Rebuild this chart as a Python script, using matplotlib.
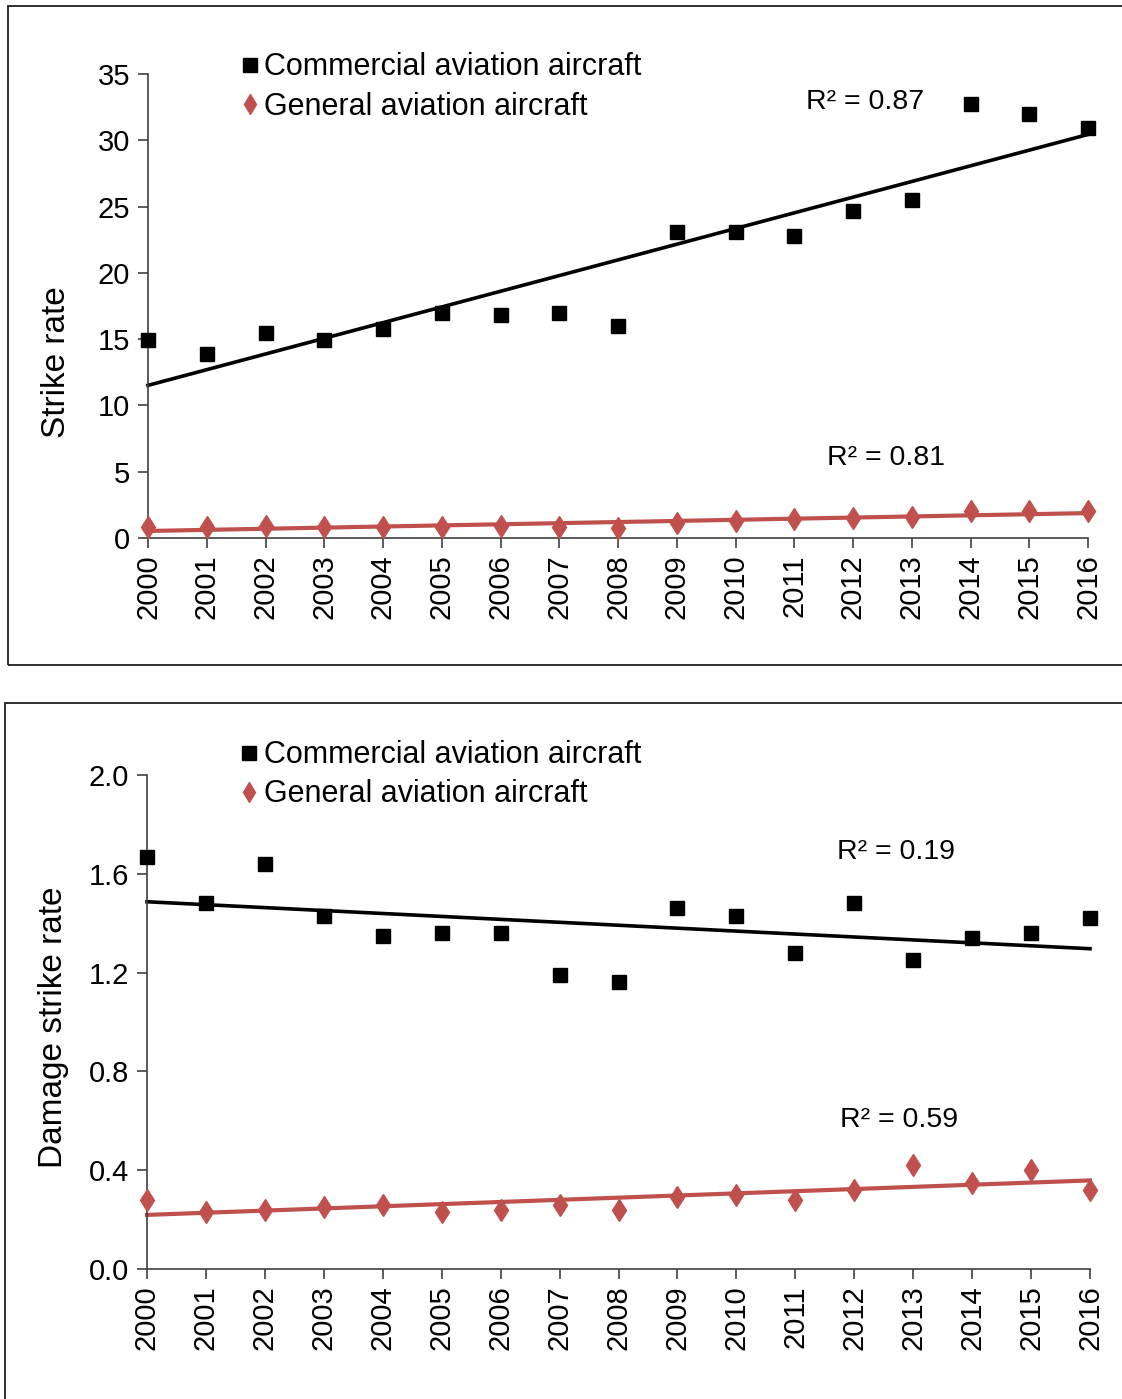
"""
Strike rate and damaging strike rate, commercial vs general aviation, 2000-2016.
"""

import matplotlib.pyplot as plt
import matplotlib.patches as mpatches
import numpy as np

plt.rcParams.update({
    "font.family": ["Liberation Sans", "DejaVu Sans"],
    "font.size": 20,
    "figure.facecolor": "white",
    "axes.facecolor": "white",
})

years = np.arange(2000, 2017)

# strike rate (top panel)
strike_commercial = [14.9, 13.9, 15.5, 14.9, 15.8, 17.0, 16.8, 17.0, 16.0,
                     23.1, 23.1, 22.8, 24.7, 25.5, 32.7, 32.0, 30.9]
strike_general = [0.85, 0.80, 0.90, 0.80, 0.80, 0.85, 0.93, 0.80, 0.73,
                  1.13, 1.26, 1.40, 1.50, 1.60, 2.06, 2.06, 2.00]

# damaging strike rate (bottom panel)
damage_commercial = [1.67, 1.48, 1.64, 1.43, 1.35, 1.36, 1.36, 1.19, 1.16,
                     1.46, 1.43, 1.28, 1.48, 1.25, 1.34, 1.36, 1.42]
damage_general = [0.28, 0.23, 0.24, 0.25, 0.26, 0.23, 0.24, 0.26, 0.24,
                  0.29, 0.30, 0.28, 0.32, 0.42, 0.35, 0.40, 0.32]

r2_labels_top = ["R² = 0.87", "R² = 0.81"]
r2_labels_bottom = ["R² = 0.19", "R² = 0.59"]

BLACK = "#000000"
RED = "#C0504D"

W, H = 1122, 1399
fig = plt.figure(figsize=(W / 100, H / 100), dpi=100)


def px_axes(left, top, right, bottom):
    return fig.add_axes([left / W, 1 - bottom / H, (right - left) / W, (bottom - top) / H])


def draw_panel(ax, comm, gen, ylim, yticks, yfmt, ylabel, r2_text, r2_pos, leg_anchor,
               lpad, label_y):
    ax.plot(years, comm, "s", color=BLACK, markersize=10.5, linestyle="none",
            label="Commercial aviation aircraft", zorder=3, clip_on=False)
    ax.plot(years, gen, "d", color=RED, markersize=11.5, linestyle="none",
            label="General aviation aircraft", zorder=3, clip_on=False)

    for vals, col, lw in [(comm, BLACK, 2.6), (gen, RED, 3.0)]:
        k, b = np.polyfit(years, vals, 1)
        ax.plot(years[[0, -1]], k * years[[0, -1]] + b, color=col, lw=lw, zorder=2,
                clip_on=False)

    ax.set_xlim(2000, 2016)
    ax.set_ylim(*ylim)
    ax.set_xticks(years)
    ax.set_xticklabels([str(y) for y in years], rotation=90)
    ax.set_yticks(yticks)
    ax.set_yticklabels([yfmt.format(v) for v in yticks])
    ax.tick_params(direction="out", length=7, width=1.2, color="#404040", labelsize=21)
    ax.tick_params(axis="y", pad=6)
    ax.tick_params(axis="x", pad=5)
    for side in ["top", "right"]:
        ax.spines[side].set_visible(False)
    for side in ["left", "bottom"]:
        ax.spines[side].set_color("#404040")
        ax.spines[side].set_linewidth(1.2)
    ax.set_ylabel(ylabel, fontsize=24, labelpad=lpad, y=label_y)

    for txt, (x, y) in zip(r2_text, r2_pos):
        ax.text(x, y, txt, fontsize=20.5, ha="left", va="center", color="#000000")

    ax.legend(loc="upper left", bbox_to_anchor=leg_anchor, frameon=False,
              handlelength=0.45, handletextpad=0.25, labelspacing=0.3,
              borderaxespad=0, fontsize=22, markerscale=0.9)


# ── top panel ───────────────────────────────────────────────────────────
ax1 = px_axes(148, 74, 1088, 538)
draw_panel(ax1, strike_commercial, strike_general, (0, 35), np.arange(0, 36, 5), "{:.0f}",
           "Strike rate", r2_labels_top, [(2011.2, 32.9), (2011.55, 6.0)],
           (0.088, 1.073), 18, 0.379)

# ── bottom panel ────────────────────────────────────────────────────────
ax2 = px_axes(147, 775, 1090, 1269)
draw_panel(ax2, damage_commercial, damage_general, (0, 2.0), np.arange(0, 2.01, 0.4), "{:.1f}",
           "Damage strike rate", r2_labels_bottom, [(2011.7, 1.69), (2011.75, 0.605)],
           (0.088, 1.095), 14, 0.49)

# panel frames
fig.patches.append(mpatches.Rectangle((8 / W, 1 - 665 / H), 1.2, (665 - 6) / H,
                                      transform=fig.transFigure, fill=False,
                                      edgecolor="#202020", lw=1.3))
fig.patches.append(mpatches.Rectangle((5 / W, -0.1), 1.2, 0.1 + (H - 703) / H,
                                      transform=fig.transFigure, fill=False,
                                      edgecolor="#202020", lw=1.3))

fig.savefig("out.png", dpi=100)
